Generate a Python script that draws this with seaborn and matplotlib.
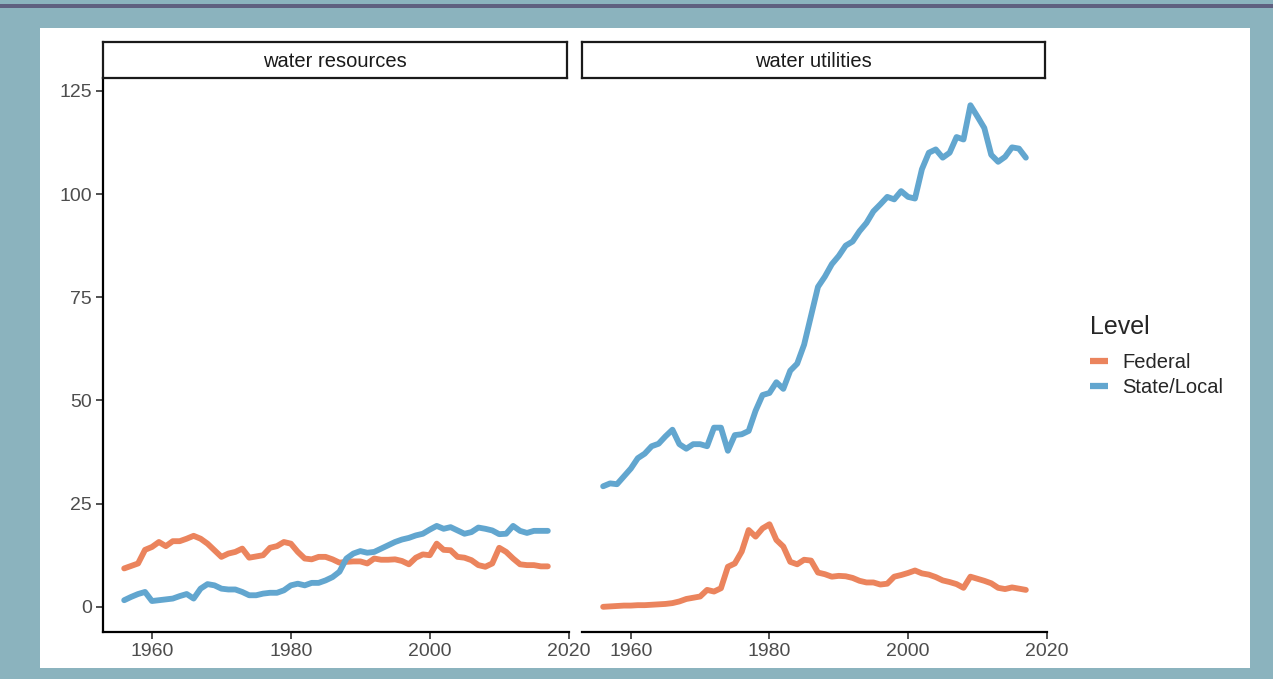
import matplotlib
matplotlib.use("Agg")
import matplotlib.pyplot as plt
from matplotlib.patches import Rectangle
import pandas as pd
import seaborn as sns

# ---- data -------------------------------------------------------------
years = list(range(1956, 2018))

resources_federal = [
    9.3, 9.9, 10.5, 13.8, 14.5, 15.7, 14.7, 15.9, 15.9, 16.5,
    17.2, 16.5, 15.3, 13.7, 12.1, 12.9, 13.3, 14.1, 11.9, 12.2,
    12.5, 14.3, 14.7, 15.7, 15.3, 13.3, 11.7, 11.5, 12.1, 12.1,
    11.5, 10.7, 10.9, 11.0, 11.0, 10.5, 11.7, 11.4, 11.4, 11.5,
    11.1, 10.3, 11.9, 12.7, 12.5, 15.3, 13.8, 13.7, 12.1, 11.9,
    11.3, 10.1, 9.7, 10.5, 14.3, 13.3, 11.7, 10.3, 10.1, 10.1,
    9.8, 9.8,
]
resources_state_local = [
    1.6, 2.4, 3.1, 3.6, 1.4, 1.6, 1.8, 2.0, 2.6, 3.1,
    2.0, 4.4, 5.5, 5.2, 4.4, 4.2, 4.2, 3.6, 2.8, 2.8,
    3.2, 3.4, 3.4, 4.0, 5.2, 5.6, 5.2, 5.8, 5.8, 6.4,
    7.2, 8.5, 11.7, 12.9, 13.5, 13.1, 13.3, 14.1, 14.9, 15.7,
    16.3, 16.7, 17.3, 17.7, 18.7, 19.6, 18.9, 19.3, 18.5, 17.7,
    18.1, 19.2, 18.9, 18.5, 17.6, 17.7, 19.6, 18.4, 17.9, 18.4,
    18.4, 18.4,
]
utilities_federal = [
    0.0, 0.1, 0.2, 0.3, 0.3, 0.4, 0.4, 0.5, 0.6, 0.7,
    0.9, 1.3, 1.9, 2.2, 2.5, 4.1, 3.7, 4.5, 9.7, 10.5,
    13.4, 18.6, 17.0, 19.0, 20.0, 16.2, 14.6, 10.9, 10.3, 11.4,
    11.2, 8.3, 7.9, 7.3, 7.5, 7.4, 7.0, 6.3, 5.9, 5.9,
    5.4, 5.6, 7.3, 7.7, 8.2, 8.8, 8.1, 7.8, 7.2, 6.4,
    6.0, 5.5, 4.6, 7.3, 6.8, 6.3, 5.7, 4.6, 4.3, 4.7,
    4.4, 4.1,
]
utilities_state_local = [
    29.2, 29.9, 29.7, 31.6, 33.5, 36.0, 37.1, 38.9, 39.5, 41.3,
    42.9, 39.4, 38.3, 39.4, 39.4, 38.9, 43.4, 43.4, 37.8, 41.6,
    41.8, 42.6, 47.5, 51.3, 51.8, 54.4, 52.8, 57.2, 58.9, 63.5,
    70.5, 77.5, 80.0, 83.0, 85.0, 87.5, 88.5, 91.0, 93.0, 95.8,
    97.5, 99.3, 98.7, 100.7, 99.3, 98.9, 106.0, 110.0, 110.8, 108.8,
    110.0, 113.8, 113.2, 121.5, 118.8, 116.0, 109.5, 107.8, 109.0, 111.3,
    111.0, 108.8,
]

facets = ["water resources", "water utilities"]
levels = ["Federal", "State/Local"]
level_colors = ["#EB845D", "#62A6CF"]
y_ticks = [0, 25, 50, 75, 100, 125]
x_ticks = [1960, 1980, 2000, 2020]

series = {
    "water resources": (resources_federal, resources_state_local),
    "water utilities": (utilities_federal, utilities_state_local),
}
frames = []
for facet in facets:
    for level, values in zip(levels, series[facet]):
        frames.append(pd.DataFrame({"year": years, "spending": values,
                                    "Level": level, "category": facet}))
df = pd.concat(frames, ignore_index=True)

# ---- styling ----------------------------------------------------------
sns.set_theme(style="white")
plt.rcParams["font.family"] = ["Liberation Sans", "DejaVu Sans"]

W, H = 1273, 679
fig = plt.figure(figsize=(W / 100, H / 100), dpi=100, facecolor="#8BB3BE")

# white card and the dark rule along the top (kept beneath the axes)
fig.patches.append(Rectangle((40 / W, 1 - 668 / H), (1250 - 40) / W, (668 - 28) / H,
                             transform=fig.transFigure, facecolor="white",
                             edgecolor="none", zorder=-5))
fig.patches.append(Rectangle((0, 1 - 8 / H), 1, 4 / H, transform=fig.transFigure,
                             facecolor="#5F6080", edgecolor="none", zorder=-5))

panel_x = [(103, 569), (582, 1047)]
panel_top, panel_bottom = 78, 632
strip_top = 42

axes = []
for i, facet in enumerate(facets):
    x0, x1 = panel_x[i]
    ax = fig.add_axes([x0 / W, 1 - panel_bottom / H, (x1 - x0) / W,
                       (panel_bottom - panel_top) / H])
    ax.set_facecolor("none")
    sub = df[df["category"] == facet]
    sns.lineplot(data=sub, x="year", y="spending", hue="Level",
                 hue_order=levels, palette=level_colors, linewidth=4.2,
                 ax=ax, legend=(i == 1))
    ax.set_xlim(1952.95, 2020.05)
    ax.set_ylim(-6.1, 128.1)
    ax.set_xticks(x_ticks)
    ax.set_yticks(y_ticks)
    ax.set_xlabel("")
    ax.set_ylabel("")
    for side in ["top", "right"]:
        ax.spines[side].set_visible(False)
    ax.spines["bottom"].set_color("black")
    ax.spines["bottom"].set_linewidth(1.6)
    ax.spines["left"].set_color("black")
    ax.spines["left"].set_linewidth(1.6)
    ax.tick_params(direction="out", length=5, width=1.2, color="#333333",
                   labelcolor="#4D4D4D", labelsize=14, pad=3)
    ax.tick_params(axis="x", bottom=True)
    ax.tick_params(axis="y", left=True)
    if i == 1:
        ax.spines["left"].set_visible(False)
        ax.tick_params(axis="y", left=False, labelleft=False)
    axes.append(ax)

    # facet strip
    sx = fig.add_axes([x0 / W, 1 - panel_top / H, (x1 - 2 - x0) / W,
                       (panel_top - strip_top) / H])
    sx.set_xticks([])
    sx.set_yticks([])
    sx.set_facecolor("white")
    for sp in sx.spines.values():
        sp.set_visible(True)
        sp.set_color("#1A1A1A")
        sp.set_linewidth(1.6)
    sx.text(0.5, 0.47, facet, ha="center", va="center", fontsize=14.5,
            color="#1A1A1A", transform=sx.transAxes)

# legend on the right
handles, labels = axes[1].get_legend_handles_labels()
axes[1].get_legend().remove()
for h in handles:
    h.set_linewidth(4.5)
    h.set_solid_capstyle("butt")
leg = fig.legend(handles, labels, title="Level", loc="upper left",
                 bbox_to_anchor=(1080 / W, 1 - 305 / H), frameon=False,
                 fontsize=14.5, title_fontsize=18, handlelength=0.9,
                 handletextpad=0.7, labelspacing=0.32, borderpad=0,
                 alignment="left")
leg._legend_box.sep = 10

fig.savefig("out.png", dpi=100, facecolor=fig.get_facecolor())
